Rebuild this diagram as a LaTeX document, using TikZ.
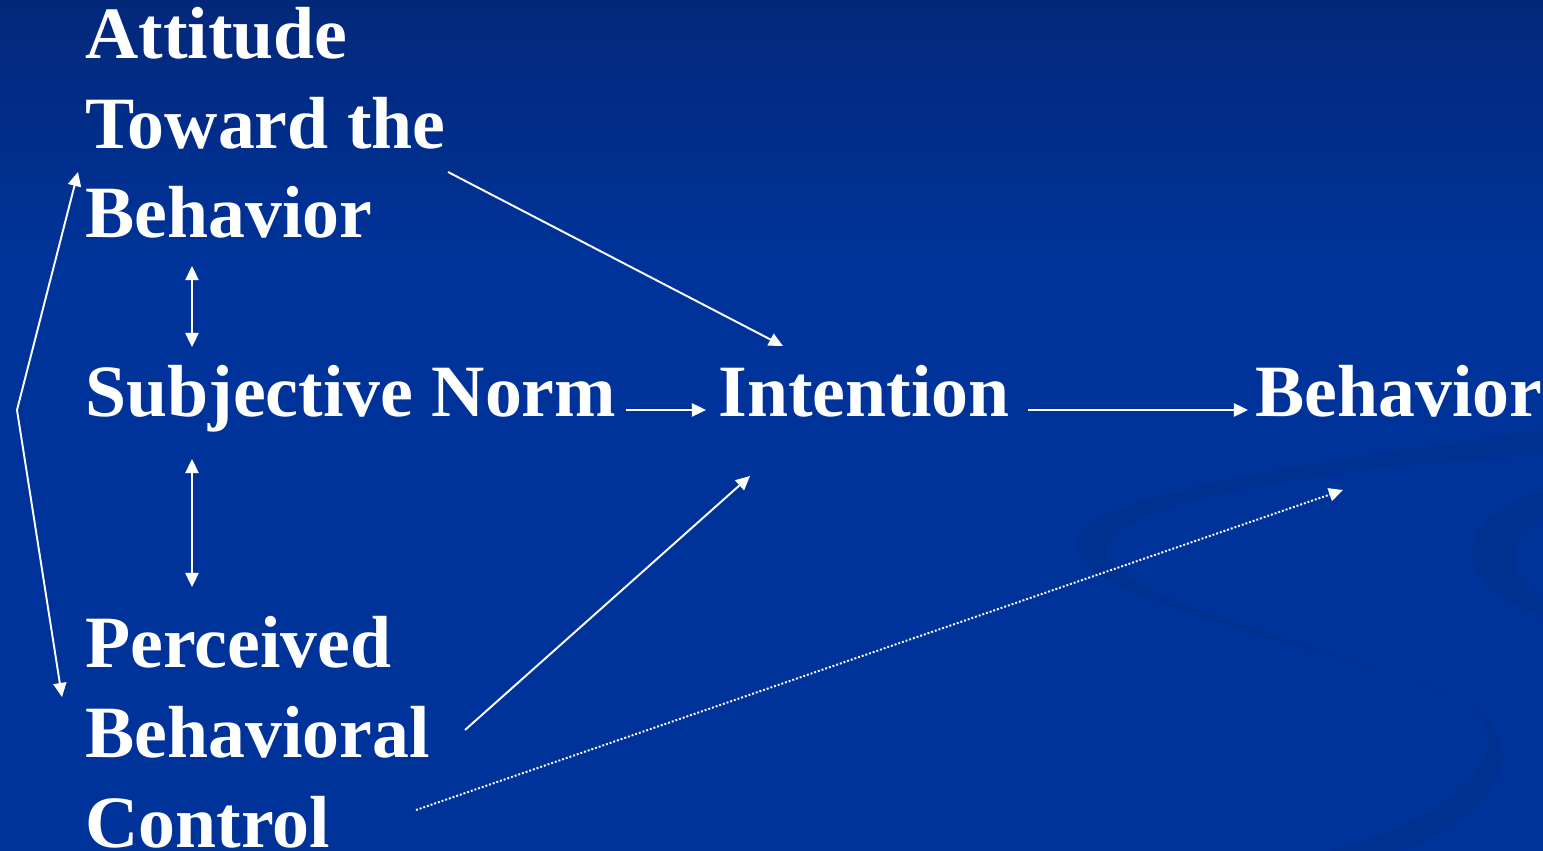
\documentclass[tikz,border=0pt]{standalone}
\usepackage{fontspec}
\setmainfont{Liberation Serif}
\usepackage{tikz}
\usetikzlibrary{arrows.meta,calc}

\definecolor{slide}{RGB}{0,51,153}
\definecolor{slidetop}{RGB}{2,40,122}
\definecolor{swirl}{RGB}{0,48,144}

\begin{document}
\begin{tikzpicture}[x=0.02cm,y=-0.02cm,
  lbl/.style={text=white,font=\fontsize{42}{51.2}\selectfont\bfseries,inner sep=0pt,align=left,anchor=base west},
  link/.style={draw=white,line width=1.1pt,-{Triangle[length=8pt,width=7.5pt]}},
  both/.style={link,{Triangle[length=8pt,width=7.5pt]}-{Triangle[length=8pt,width=7.5pt]}},
  dots/.style={link,dash pattern=on 1.1pt off 1.1pt}]

  % background
  \shade[top color=slidetop,bottom color=slide] (0,0) rectangle (1543,260);
  \fill[slide] (0,259) rectangle (1543,851);
  \useasboundingbox (0,0) rectangle (1543,851);
  \fill[swirl] (1543,430) .. controls (1250,470) and (1075,500) .. (1077,545)
    .. controls (1080,600) and (1300,640) .. (1440,690)
    .. controls (1520,720) and (1510,800) .. (1330,851) -- (1400,851)
    .. controls (1530,800) and (1520,730) .. (1460,700)
    .. controls (1320,640) and (1110,600) .. (1108,550)
    .. controls (1110,505) and (1300,470) .. (1543,455) -- cycle;
  \fill[swirl] (1543,490) .. controls (1480,510) and (1465,540) .. (1475,570)
    .. controls (1490,600) and (1530,610) .. (1543,620) -- (1543,600)
    .. controls (1510,580) and (1500,540) .. (1543,520) -- cycle;

  % concepts (base = last line)
  \node[lbl] (att) at (85,238) {Attitude\\Toward the\\Behavior};
  \node[lbl] (norm) at (85,417) {Subjective Norm};
  \node[lbl] (inten) at (718,417) {Intention};
  \node[lbl] (beh) at (1255,417) {Behavior};
  \node[lbl] (pbc) at (85,847) {Perceived\\Behavioral\\Control};
  \coordinate (brk) at (17,410);

  % links
  \draw[link] ($(att.base west)+(363,-66)$) -- ($(inten.base west)+(65,-71)$);
  \draw[link] ($(norm.base east)+(10,-7)$) -- ($(inten.base west)+(-12,-7)$);
  \draw[link] ($(inten.base east)+(18,-7)$) -- ($(beh.base west)+(-7,-7)$);
  \draw[link] ($(pbc.base west)+(380,-117)$) -- ($(inten.base west)+(32,59)$);
  \draw[dots] ($(pbc.base west)+(331,-37)$) -- ($(beh.base west)+(88,73)$);
  \draw[both] ($(att.base west)+(107,28)$) -- ($(norm.base west)+(107,-70)$);
  \draw[both] ($(norm.base west)+(107,42)$) -- ($(pbc.base west)+(107,-260)$);
  \draw[both] ($(att.base west)+(-7,-66)$) -- (brk) -- ($(pbc.base west)+(-23,-150)$);
\end{tikzpicture}
\end{document}
